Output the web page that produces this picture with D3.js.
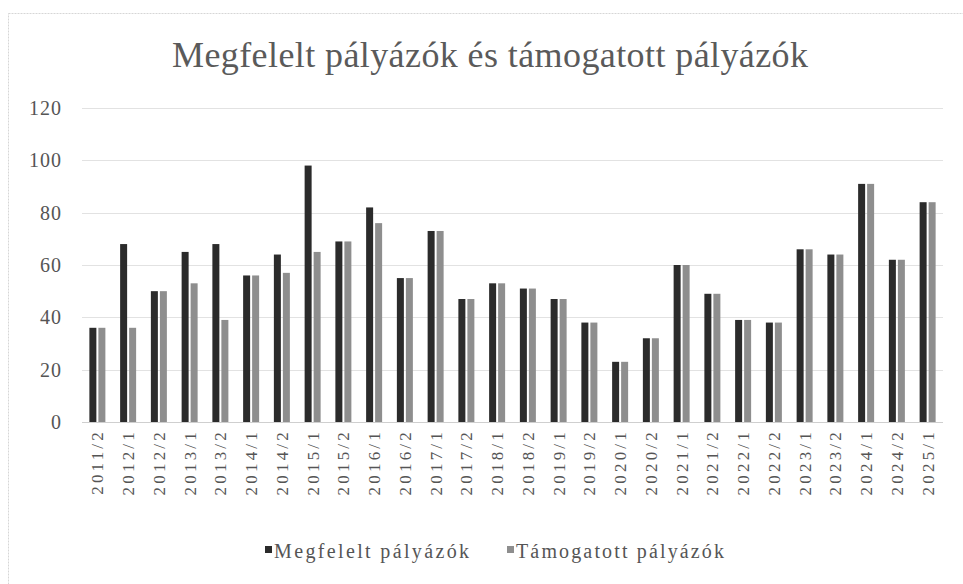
<!DOCTYPE html>
<html>
<head>
<meta charset="utf-8">
<script src="https://cdn.jsdelivr.net/npm/d3@7"></script>
<style>
  html, body { margin: 0; padding: 0; background: #fff; }
  svg { display: block; font-family: "Liberation Serif", "DejaVu Serif", serif; }
  svg text { font-family: "Liberation Serif", "DejaVu Serif", serif; }
</style>
</head>
<body>
<div id="chart"></div>
<script>
// Félévek és a két sorozat (ábráról leolvasva)
var categories = ["2011/2", "2012/1", "2012/2", "2013/1", "2013/2", "2014/1", "2014/2", "2015/1",
    "2015/2", "2016/1", "2016/2", "2017/1", "2017/2", "2018/1", "2018/2", "2019/1", "2019/2",
    "2020/1", "2020/2", "2021/1", "2021/2", "2022/1", "2022/2", "2023/1", "2023/2", "2024/1",
    "2024/2", "2025/1"];
var megfelelt = [36, 68, 50, 65, 68, 56, 64, 98, 69, 82, 55, 73, 47, 53, 51, 47, 38, 23, 32, 60,
    49, 39, 38, 66, 64, 91, 62, 84];
var tamogatott = [36, 36, 50, 53, 39, 56, 57, 65, 69, 76, 55, 73, 47, 53, 51, 47, 38, 23, 32, 60,
    49, 39, 38, 66, 64, 91, 62, 84];
var yTicks = [0, 20, 40, 60, 80, 100, 120];
var seriesNames = ["Megfelelt pályázók", "Támogatott pályázók"];

(function () {
    "use strict";
    var width = 963, height = 584;
    var m = { top: 108, right: 20, bottom: 162, left: 82 };
    var colors = ["#2b2b2b", "#8e8e8e"];
    var series = [megfelelt, tamogatott];

    var svg = d3.select("#chart").append("svg").attr("width", width).attr("height", height);

    // halvány keret
    svg.append("rect").attr("x", 8.5).attr("y", 13.5).attr("width", width).attr("height", height)
        .attr("fill", "none").attr("stroke", "#d6d6d6").attr("stroke-dasharray", "2,1");

    var x = d3.scaleBand().domain(categories).range([m.left, width - m.right]).padding(0);
    var y = d3.scaleLinear().domain([0, 120]).range([height - m.bottom, m.top]);

    // rácsvonalak
    svg.append("g").selectAll("line").data(yTicks).enter().append("line")
        .attr("x1", m.left).attr("x2", width - m.right)
        .attr("y1", function (d) { return Math.round(y(d)) + 0.5; })
        .attr("y2", function (d) { return Math.round(y(d)) + 0.5; })
        .attr("stroke", function (d) { return d === 0 ? "#cfcfcf" : "#e2e2e2"; })
        .attr("stroke-width", 1);

    // y tengely
    var yAxis = svg.append("g").attr("transform", "translate(" + (m.left - 20) + ",0)")
        .call(d3.axisLeft(y).tickValues(yTicks).tickSize(0).tickPadding(0));
    yAxis.attr("font-family", null);
    yAxis.select(".domain").remove();
    yAxis.selectAll("text").style("font-size", "20px").style("fill", "#555")
        .style("letter-spacing", "1px");

    // oszlopok
    var barW = 7, gap = 2;
    var groupW = barW * 2 + gap;
    series.forEach(function (vals, si) {
        svg.append("g").selectAll("rect").data(vals).enter().append("rect")
            .attr("x", function (d, i) {
                return x(categories[i]) + (x.bandwidth() - groupW) / 2 + si * (barW + gap);
            })
            .attr("y", function (d) { return y(d); })
            .attr("width", barW)
            .attr("height", function (d) { return y(0) - y(d); })
            .attr("fill", colors[si]);
    });

    // x tengely feliratok
    var xAxis = svg.append("g").attr("transform", "translate(0," + y(0) + ")")
        .call(d3.axisBottom(x).tickSize(0).tickPadding(0));
    xAxis.attr("font-family", null);
    xAxis.select(".domain").remove();
    xAxis.selectAll("text")
        .attr("transform", "rotate(-90)")
        .attr("x", -7).attr("y", 0).attr("dy", "0.35em")
        .style("text-anchor", "end").style("font-size", "17px").style("fill", "#555")
        .style("letter-spacing", "3.2px");

    // cím
    svg.append("text").attr("x", 490).attr("y", 67).attr("text-anchor", "middle")
        .attr("textLength", 636).attr("lengthAdjust", "spacing")
        .style("font-size", "36px").style("fill", "#5a5a5a")
        .text("Megfelelt pályázók és támogatott pályázók");

    // jelmagyarázat
    var legendX = [265, 507];
    var legendLen = [195, 208];
    seriesNames.forEach(function (name, i) {
        var g = svg.append("g").attr("transform", "translate(" + legendX[i] + ",551)");
        g.append("rect").attr("x", 0).attr("y", -5).attr("width", 7).attr("height", 7).attr("fill", colors[i]);
        g.append("text").attr("x", 9).attr("y", 0).attr("dy", "0.35em")
            .attr("textLength", legendLen[i]).attr("lengthAdjust", "spacing")
            .style("font-size", "20px").style("fill", "#555").text(name);
    });
})();
</script>
</body>
</html>
